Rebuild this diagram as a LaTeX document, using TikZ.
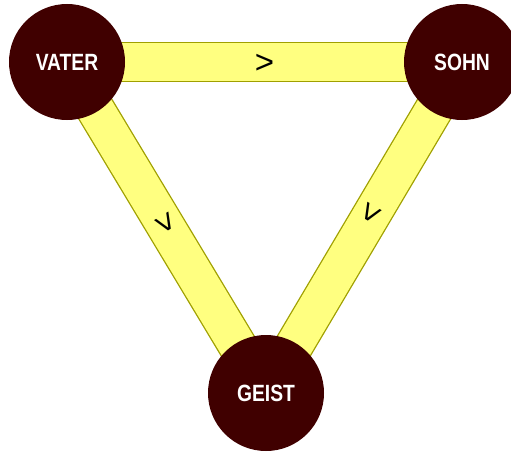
\documentclass[tikz,border=0pt]{standalone}
\usepackage{fontspec}
\setmainfont{Liberation Sans}
\newfontfamily\labelfont{Liberation Sans}[FakeStretch=0.82]
\definecolor{circ}{HTML}{400000}
\definecolor{bandfill}{HTML}{FFFF80}
\definecolor{bandedge}{HTML}{A0A000}
\begin{document}
\begin{tikzpicture}[x=1pt,y=1pt,
  person/.style={circle, fill=circ, minimum size=116pt, inner sep=0pt, text=white, font=\labelfont\fontsize{23.5}{23.5}\selectfont\bfseries},
  band/.style={draw=bandedge, double=bandfill, double distance=37pt, line width=1.3pt},
  rel/.style={font=\fontsize{33}{33}\selectfont, text=black, inner sep=0pt}
]
\useasboundingbox (0,0) rectangle (511,451);
\coordinate (v) at (67,389);
\coordinate (s) at (462,389);
\coordinate (g) at (266,58);
\draw[band] (v) -- (s) node[rel, pos=0.5, yshift=-2pt] (r1) {>};
\draw[band] (v) -- (g) node[rel, pos=0.49, rotate=-59] (r2) {>};
\draw[band] (s) -- (g) node[rel, pos=0.455, xshift=-3pt, rotate=-120.6] (r3) {>};
\node[person] (vater) at (v) {VATER};
\node[person] (sohn) at (s) {SOHN};
\node[person] (geist) at (g) {GEIST};
\end{tikzpicture}
\end{document}
